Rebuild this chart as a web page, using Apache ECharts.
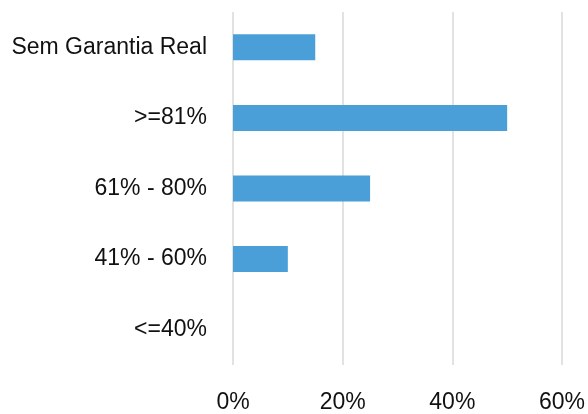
<!DOCTYPE html>
<html><head><meta charset="utf-8">
<script src="https://cdn.jsdelivr.net/npm/echarts@6/dist/echarts.min.js"></script>
<style>html,body{margin:0;padding:0;background:#fff}#c{width:588px;height:414px}</style>
</head><body><div id="c"></div>
<script>
const categories = ['<=40%', '41% - 60%', '61% - 80%', '>=81%', 'Sem Garantia Real'];
const values = [0, 10, 25, 50, 15];
const xTicks = [0, 20, 40, 60];

const chart = echarts.init(document.getElementById('c'), null, {renderer: 'canvas'});
chart.setOption({
  animation: false,
  grid: {left: 233, right: 25, top: 12, bottom: 44, containLabel: false},
  xAxis: {
    type: 'value', min: xTicks[0], max: xTicks[xTicks.length - 1], interval: 20,
    axisLine: {show: false}, axisTick: {show: false},
    splitLine: {lineStyle: {color: '#d9d9d9', width: 1.5}},
    axisLabel: {formatter: v => v + '%', color: '#111', fontSize: 23, fontFamily: 'Liberation Sans', margin: 26}
  },
  yAxis: {
    type: 'category', data: categories,
    axisLine: {show: false}, axisTick: {show: false},
    axisLabel: {color: '#111', fontSize: 23, fontFamily: 'Liberation Sans', margin: 26}
  },
  series: [{
    type: 'bar', data: values, barWidth: 26,
    itemStyle: {color: '#4a9fd8'}
  }]
});
</script></body></html>
